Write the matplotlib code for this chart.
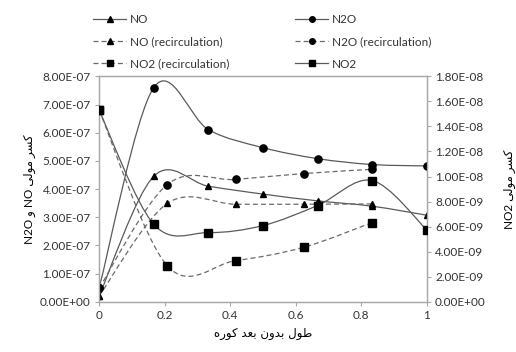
# Molar fractions of NO, N2O and NO2 along the dimensionless furnace length
import numpy as np
import matplotlib.pyplot as plt
from matplotlib.path import Path
from matplotlib.patches import PathPatch
from matplotlib.lines import Line2D

plt.rcParams["font.family"] = ["Lato", "DejaVu Sans"]

# base case: 7 stations, recirculation case: 5 stations
x_base = [0, 1/6, 1/3, 1/2, 2/3, 5/6, 1]
x_recirc = [0, 0.2083, 0.4167, 0.625, 0.8333]

no = [2.0e-8, 4.45e-7, 4.10e-7, 3.82e-7, 3.58e-7, 3.39e-7, 3.07e-7]
n2o = [4.8e-8, 7.60e-7, 6.11e-7, 5.47e-7, 5.08e-7, 4.87e-7, 4.82e-7]
no2 = [1.53e-8, 6.19e-9, 5.52e-9, 6.08e-9, 7.68e-9, 9.68e-9, 5.74e-9]

no_rec = [2.0e-8, 3.49e-7, 3.46e-7, 3.46e-7, 3.47e-7]
n2o_rec = [4.8e-8, 4.16e-7, 4.34e-7, 4.55e-7, 4.70e-7]
no2_rec = [1.53e-8, 2.86e-9, 3.28e-9, 4.35e-9, 6.32e-9]

# Persian labels (presentation forms, visual order)
xlabel = "\ufee9\ufead\ufeee\ufb90 \ufeaa\ufecc\ufe91 \ufee5\ufeed\ufeaa\ufe91 \ufedd\ufeee\ufec3"
ylabel_left = "N2O \ufeed NO \ufbfd\ufedf\ufeee\ufee3 \ufeae\ufeb4\ufb90"
ylabel_right = "NO2 \ufbfd\ufedf\ufeee\ufee3 \ufeae\ufeb4\ufb90"


def smooth_line(ax, xs, ys, **kw):
    # excel-like smoothed line: catmull-rom segments as cubic beziers
    p = np.column_stack([xs, ys]).astype(float)
    n = len(p)
    verts = [p[0]]
    codes = [Path.MOVETO]
    for i in range(n - 1):
        p0 = p[i - 1] if i > 0 else p[i]
        p3 = p[i + 2] if i + 2 < n else p[i + 1]
        c1 = p[i] + (p[i + 1] - p0) / 6
        c2 = p[i + 1] - (p3 - p[i]) / 6
        verts += [c1, c2, p[i + 1]]
        codes += [Path.CURVE4] * 3
    ax.add_patch(PathPatch(Path(verts, codes), fill=False, **kw))


fig = plt.figure(figsize=(5.16, 3.52), dpi=100)
ax = fig.add_axes([0.192, 0.143, 0.635, 0.640])
ax2 = ax.twinx()

solid = dict(color="#5a5a5a", lw=0.9, ls="-")
dashed = dict(color="#6a6a6a", lw=0.9, ls=(0, (4, 2.5)))

smooth_line(ax, x_base, no, **solid)
smooth_line(ax, x_base, n2o, **solid)
smooth_line(ax, x_recirc, no_rec, **dashed)
smooth_line(ax, x_recirc, n2o_rec, **dashed)
smooth_line(ax2, x_base, no2, **solid)
smooth_line(ax2, x_recirc, no2_rec, **dashed)

mk = dict(color="black", ls="none", zorder=5)
ax.plot(x_base, no, marker="^", ms=5, **mk)
ax.plot(x_base, n2o, marker="o", ms=5.2, **mk)
ax.plot(x_recirc, no_rec, marker="^", ms=5, **mk)
ax.plot(x_recirc, n2o_rec, marker="o", ms=5.2, **mk)
ax2.plot(x_base, no2, marker="s", ms=5.5, **mk)
ax2.plot(x_recirc, no2_rec, marker="s", ms=5.5, **mk)

ax.set_xlim(0, 1)
ax.set_ylim(0, 8e-7)
ax2.set_ylim(0, 1.8e-8)
ax.set_xticks(np.arange(0, 1.01, 0.2))
ax.set_xticklabels(["0", "0.2", "0.4", "0.6", "0.8", "1"])
ax.set_yticks(np.arange(0, 8.01e-7, 1e-7))
ax.set_yticklabels([f"{v:.2E}" for v in np.arange(0, 8.01e-7, 1e-7)])
ax2.set_yticks(np.arange(0, 1.801e-8, 2e-9))
ax2.set_yticklabels([f"{v:.2E}" for v in np.arange(0, 1.801e-8, 2e-9)])

for a in (ax, ax2):
    for s in a.spines.values():
        s.set_color("#a8a8a8")
        s.set_linewidth(0.9)
    a.tick_params(length=3, width=0.8, color="#a8a8a8", labelsize=8.5,
                  labelcolor="#333333", pad=3)

ax.set_xlabel(xlabel, fontsize=8.5, family=["DejaVu Sans"], labelpad=4)
ax.set_ylabel(ylabel_left, fontsize=8.5, family=["Lato", "DejaVu Sans"], labelpad=3)
ax2.set_ylabel(ylabel_right, fontsize=8.5, family=["Lato", "DejaVu Sans"], labelpad=13)

handles = [
    Line2D([], [], marker="^", ms=4, mfc="black", mec="black", **solid),
    Line2D([], [], marker="^", ms=4, mfc="black", mec="black", **dashed),
    Line2D([], [], marker="s", ms=4, mfc="black", mec="black", **dashed),
    Line2D([], [], marker="o", ms=4, mfc="black", mec="black", **solid),
    Line2D([], [], marker="o", ms=4, mfc="black", mec="black", **dashed),
    Line2D([], [], marker="s", ms=4, mfc="black", mec="black", **solid),
]
labels = ["NO", "NO (recirculation)", "NO2 (recirculation)",
          "N2O", "N2O (recirculation)", "NO2"]
fig.legend(handles, labels, ncol=2, loc="upper left", bbox_to_anchor=(0.16, 0.99),
           frameon=False, fontsize=8.5, handlelength=2.8, handletextpad=0.3,
           columnspacing=5.6, labelspacing=0.95, labelcolor="#333333")

fig.savefig("out.png", dpi=100)
